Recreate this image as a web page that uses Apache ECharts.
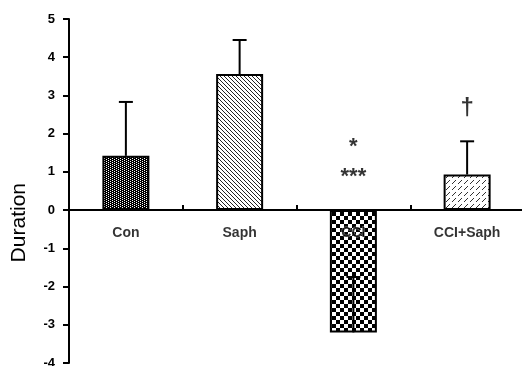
<!DOCTYPE html>
<html>
<head>
<meta charset="utf-8">
<script src="https://cdn.jsdelivr.net/npm/echarts@6/dist/echarts.min.js"></script>
<style>html,body{margin:0;padding:0;background:#fff;}#c{width:522px;height:366px;}</style>
</head>
<body>
<div id="c"></div>
<script>
// ---- data ----
var categories = ['Con', 'Saph', 'CCI', 'CCI+Saph'];
var durations = [1.42, 3.56, -3.2, 0.93];
var errors = [1.41, 0.89, 1.45, 0.87];
var yTicks = [-4, -3, -2, -1, 0, 1, 2, 3, 4, 5];
var annotations = [[2, 1.64, '*'], [2, 0.86, '***'], [3, 2.67, '\u2020']];

// ---- patterns ----
function makePattern(w, h, draw) {
  var c = document.createElement('canvas');
  c.width = w; c.height = h;
  var ctx = c.getContext('2d');
  draw(ctx);
  return { image: c, repeat: 'repeat' };
}
var patCon = makePattern(4, 4, function (ctx) {
  ctx.fillStyle = '#000'; ctx.fillRect(0, 0, 4, 4);
  ctx.fillStyle = '#fff';
  ctx.fillRect(0, 0, 1, 1); ctx.fillRect(2, 1, 1, 1);
  ctx.fillRect(0, 2, 1, 1); ctx.fillRect(2, 3, 1, 1);
});
var patSaph = makePattern(4, 4, function (ctx) {
  ctx.fillStyle = '#fff'; ctx.fillRect(0, 0, 4, 4);
  ctx.fillStyle = '#222';
  for (var i = 0; i < 4; i++) ctx.fillRect(i, i, 1, 1);
});
var patCCI = makePattern(8, 8, function (ctx) {
  ctx.fillStyle = '#fff'; ctx.fillRect(0, 0, 8, 8);
  ctx.fillStyle = '#000';
  ctx.fillRect(0, 0, 4, 4); ctx.fillRect(4, 4, 4, 4);
});
var patCS = makePattern(6, 6, function (ctx) {
  ctx.fillStyle = '#fff'; ctx.fillRect(0, 0, 6, 6);
  ctx.fillStyle = '#333';
  for (var i = 0; i < 4; i++) ctx.fillRect(5 - i, i, 1, 1);
});
var patterns = [patCon, patSaph, patCCI, patCS];

var chart = echarts.init(document.getElementById('c'), null, { renderer: 'canvas' });
var fontB = 'Liberation Sans, Arial, sans-serif';

chart.setOption({
  animation: false,
  backgroundColor: '#fff',
  grid: { left: 69, top: 19, width: 455, height: 344, containLabel: false, outerBoundsMode: 'none' },
  xAxis: {
    type: 'category',
    data: categories,
    z: 5,
    axisLine: { onZero: true, lineStyle: { color: '#000', width: 2 } },
    axisTick: { show: true, inside: true, length: 5, lineStyle: { color: '#000', width: 2 } },
    axisLabel: { show: false },
    splitLine: { show: false }
  },
  yAxis: {
    type: 'value',
    min: yTicks[0], max: yTicks[yTicks.length - 1], interval: 1,
    axisLine: { show: true, lineStyle: { color: '#000', width: 2 } },
    axisTick: { show: true, length: 6, lineStyle: { color: '#000', width: 2 } },
    axisLabel: { color: '#000', fontFamily: fontB, fontWeight: 'bold', fontSize: 13, margin: 14 },
    splitLine: { show: false }
  },
  graphic: [{
    type: 'text', left: 9, top: 183, rotation: Math.PI / 2,
    style: { text: 'Duration', font: '21px Liberation Sans, Arial, sans-serif', fill: '#000' }
  }],
  series: [
    {
      type: 'bar',
      barWidth: 47,
      data: durations.map(function (v, i) {
        return { value: v, itemStyle: { color: patterns[i], borderColor: '#000', borderWidth: 2 } };
      }),
      z: 2
    },
    {
      type: 'custom',
      z: 3,
      data: durations.map(function (v, i) { return [i, v, v + errors[i]]; }),
      renderItem: function (params, api) {
        var p0 = api.coord([api.value(0), api.value(1)]);
        var p1 = api.coord([api.value(0), api.value(2)]);
        var half = 7;
        return {
          type: 'group',
          children: [
            { type: 'line', shape: { x1: p0[0], y1: p0[1], x2: p1[0], y2: p1[1] }, style: { stroke: '#000', lineWidth: 2 } },
            { type: 'line', shape: { x1: p1[0] - half, y1: p1[1], x2: p1[0] + half, y2: p1[1] }, style: { stroke: '#000', lineWidth: 2 } }
          ]
        };
      }
    },
    {
      // category labels placed just below the zero line
      type: 'scatter',
      symbolSize: 0,
      z: 6,
      zlevel: 1,
      silent: true,
      data: categories.map(function (c, i) { return { value: [i, 0], name: c }; }),
      label: {
        show: true, position: 'bottom', distance: 16,
        formatter: function (p) { return p.name; },
        color: '#000', fontFamily: fontB, fontSize: 14, fontWeight: 'bold',
        textBorderColor: 'rgba(255,255,255,0.6)', textBorderWidth: 1
      },
      labelLayout: { hideOverlap: false }
    },
    {
      type: 'scatter',
      symbolSize: 0,
      z: 4,
      silent: true,
      data: annotations.map(function (a) {
        return { value: [a[0], a[1]], name: a[2],
          label: a[2] === '\u2020' ? { fontWeight: 'bold', fontSize: 24 } : {} };
      }),
      label: {
        show: true, position: 'inside',
        formatter: function (p) { return p.name; },
        color: '#000', fontFamily: fontB, fontSize: 22, fontWeight: 'bold'
      }
    }
  ]
});
</script>
</body>
</html>
